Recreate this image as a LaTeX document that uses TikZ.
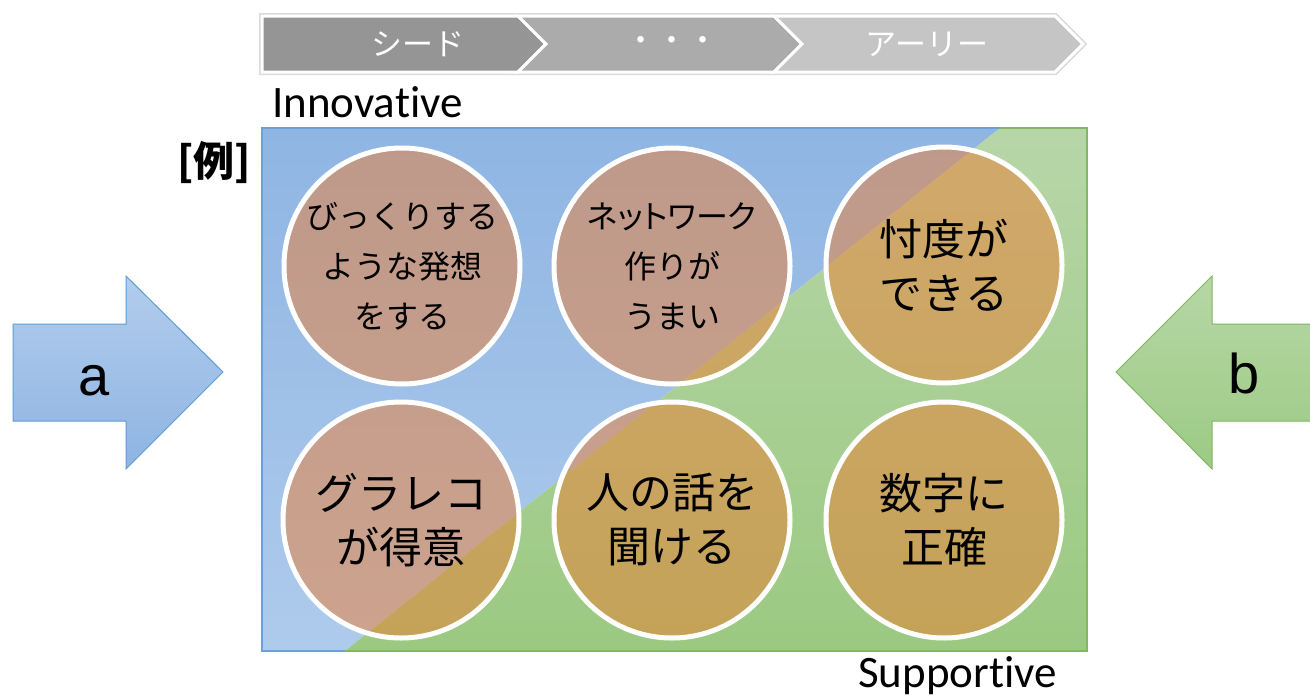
\documentclass[tikz,border=0pt]{standalone}
\usepackage{fontspec}
\newfontfamily\jpfont{Noto Sans CJK JP}
\newfontfamily\calfont[Ligatures=NoCommon]{Carlito}
\newfontfamily\arialfont{Liberation Sans}
\definecolor{blueTop}{RGB}{143,181,227}
\definecolor{blueBot}{RGB}{174,203,236}
\definecolor{blueLine}{RGB}{108,160,216}
\definecolor{greenTop}{RGB}{183,214,168}
\definecolor{greenBot}{RGB}{155,201,129}
\definecolor{greenLine}{RGB}{130,184,100}
\definecolor{circOrange}{RGB}{237,125,49}
\definecolor{chevA}{RGB}{149,149,149}
\definecolor{chevB}{RGB}{171,171,171}
\definecolor{chevC}{RGB}{197,197,197}
\definecolor{arrBlueTop}{RGB}{178,205,236}
\definecolor{arrBlueBot}{RGB}{142,180,227}
\definecolor{arrBlueLine}{RGB}{96,156,214}
\definecolor{arrGreenTop}{RGB}{183,215,166}
\definecolor{arrGreenBot}{RGB}{156,202,132}
\definecolor{arrGreenLine}{RGB}{128,182,98}
\tikzset{
  chevshadow/.style={draw=black!14, line width=6, line join=miter},
  chevbox/.style={draw=white, line width=3, line join=miter},
  chevtxt/.style={text=white, font=\jpfont\fontsize{31}{34}\selectfont, inner sep=0},
  circ/.style={circle, minimum size=236, inner sep=0, fill=circOrange, fill opacity=0.5, text opacity=1, draw=white, draw opacity=1, line width=5, align=center, text=black},
  smalltxt/.style={font=\jpfont\fontsize{32}{50}\selectfont},
  bigtxt/.style={font=\jpfont\fontsize{43}{54}\selectfont},
  axistxt/.style={font=\calfont\fontsize{45}{50}\selectfont, inner sep=0, anchor=base west},
  arrtxt/.style={font=\arialfont\fontsize{56}{60}\selectfont, inner sep=0},
}
\begin{document}
\begin{tikzpicture}[x=1pt,y=-1pt]
\useasboundingbox (0,0) rectangle (1310,696);
% stage chevrons
\foreach \p in {{(262,16) -- (518,16) -- (546,44) -- (518,72) -- (262,72) -- cycle},
                {(518,16) -- (774,16) -- (802,44) -- (774,72) -- (518,72) -- (546,44) -- cycle},
                {(774,16) -- (1055,16) -- (1083,44) -- (1055,72) -- (774,72) -- (802,44) -- cycle}}
  {\draw[chevshadow] \p;}
\filldraw[chevbox, fill=chevA] (262,16) -- (518,16) -- (546,44) -- (518,72) -- (262,72) -- cycle;
\filldraw[chevbox, fill=chevB] (518,16) -- (774,16) -- (802,44) -- (774,72) -- (518,72) -- (546,44) -- cycle;
\filldraw[chevbox, fill=chevC] (774,16) -- (1055,16) -- (1083,44) -- (1055,72) -- (774,72) -- (802,44) -- cycle;
\node[chevtxt] (s1) at (418,44) {シード};
\node[chevtxt] (s2) at (672,44) {・・・};
\node[chevtxt] (s3) at (927,44) {アーリー};
% axis labels
\node[axistxt] (inno) at (272,117) {Innovative};
\node[axistxt] (supp) at (858,687) {Supportive};
\node[font=\jpfont\bfseries\fontsize{41}{44}\selectfont, inner sep=0] (rei) at (214,163) {[例]};
% background regions
\shade[top color=blueTop, bottom color=blueBot] (262,128) -- (1000,128) -- (345,651) -- (262,651) -- cycle;
\shade[top color=greenTop, bottom color=greenBot] (1000,128) -- (1087,128) -- (1087,651) -- (345,651) -- cycle;
\draw[blueLine, line width=1.2] (345,651) -- (262,651) -- (262,128) -- (1000,128);
\draw[greenLine, line width=1.2] (1000,128) -- (1087,128) -- (1087,651) -- (345,651);
% circles
\node[circ, smalltxt] (c1) at (402,266) {びっくりする\\ような発想\\をする};
\node[circ, smalltxt] (c2) at (672,266) {{\addfontfeatures{RawFeature=+palt}ネットワーク}\\作りが\\うまい};
\node[circ, bigtxt] (c3) at (944,265) {忖度が\\できる};
\node[circ, bigtxt] (c4) at (401,520) {グラレコ\\が得意};
\node[circ, bigtxt] (c5) at (672,520) {人の話を\\聞ける};
\node[circ, bigtxt] (c6) at (944,520) {数字に\\正確};
% side arrows
\shade[top color=arrBlueTop, bottom color=arrBlueBot] (13,324) -- (126,324) -- (126,276) -- (223,372) -- (126,469) -- (126,421) -- (13,421) -- cycle;
\draw[arrBlueLine, line width=1] (13,324) -- (126,324) -- (126,276) -- (223,372) -- (126,469) -- (126,421) -- (13,421) -- cycle;
\shade[top color=arrGreenTop, bottom color=arrGreenBot] (1311,324) -- (1212,324) -- (1212,276) -- (1116,372) -- (1212,469) -- (1212,421) -- (1311,421) -- cycle;
\draw[arrGreenLine, line width=1] (1311,324) -- (1212,324) -- (1212,276) -- (1116,372) -- (1212,469) -- (1212,421) -- (1311,421) -- cycle;
\node[arrtxt] (la) at (94,381) {a};
\node[arrtxt] (lb) at (1244,373) {b};
\end{tikzpicture}
\end{document}
